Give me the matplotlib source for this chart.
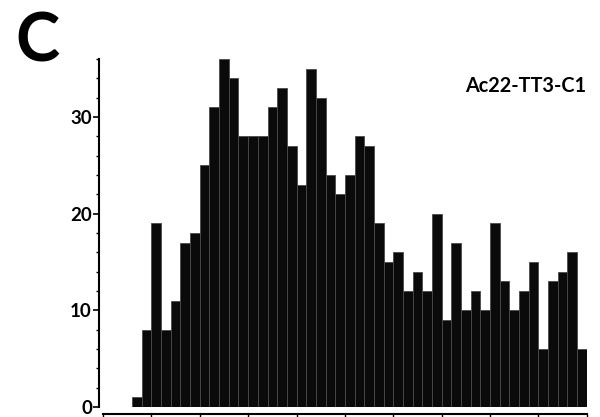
import numpy as np
import matplotlib
matplotlib.use("Agg")
import matplotlib.pyplot as plt
from matplotlib.ticker import MultipleLocator, NullFormatter

# Histogram counts per unit-width bin, starting at bin 3
first_bin = 3
counts = [1, 8, 19, 8, 11, 17, 18, 25, 31, 36, 34, 28, 28, 28, 31, 33, 27,
          23, 35, 32, 24, 22, 24, 28, 27, 19, 15, 16, 12, 14, 12, 20, 9, 17,
          10, 12, 10, 19, 13, 10, 12, 15, 6, 13, 14, 16, 6]
sample_label = "Ac22-TT3-C1"
panel_letter = "C"
y_ticks = [0, 10, 20, 30]

plt.rcParams["font.family"] = ["Lato", "DejaVu Sans"]

fig = plt.figure(figsize=(6.0, 4.17), dpi=100)
ax = fig.add_axes([0.1717, 0.024, 0.8063, 0.8345])

lefts = first_bin + np.arange(len(counts))
ax.bar(lefts, counts, width=1.0, align="edge", color="#0a0a0a",
       edgecolor="#4a4a4a", linewidth=0.6)

ax.set_xlim(0, first_bin + len(counts))
ax.set_ylim(0, 36)

for s in ("top", "right"):
    ax.spines[s].set_visible(False)
ax.spines["bottom"].set_position(("outward", 5))
ax.spines["left"].set_position(("outward", 3))
for s in ("bottom", "left"):
    ax.spines[s].set_linewidth(1.5)

ax.set_yticks(y_ticks)
ax.yaxis.set_minor_locator(MultipleLocator(2))
ax.xaxis.set_major_locator(MultipleLocator(5))
ax.xaxis.set_major_formatter(NullFormatter())
ax.tick_params(axis="y", which="major", direction="out", length=4, width=1.2,
               pad=1, labelsize=13.5)
ax.tick_params(axis="y", which="minor", direction="out", length=2.5, width=1.0)
ax.tick_params(axis="x", which="major", direction="out", length=3, width=1.0)
for lbl in ax.get_yticklabels():
    lbl.set_fontweight("bold")

ax.text(0.998, 0.905, sample_label, transform=ax.transAxes, ha="right",
        va="baseline", fontsize=14.3, fontweight="bold")
fig.text(0.025, 0.852, panel_letter, ha="left", va="baseline",
         fontsize=48, fontweight="bold")

fig.savefig("out.png", dpi=100)
